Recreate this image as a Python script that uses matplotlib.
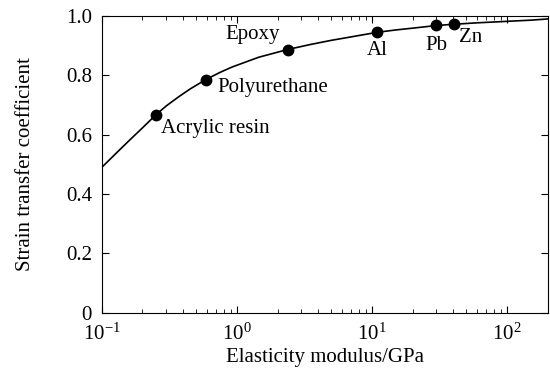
import matplotlib
matplotlib.use("Agg")
import matplotlib.pyplot as plt

plt.rcParams['font.family'] = ['Liberation Serif', 'DejaVu Serif']
plt.rcParams['mathtext.fontset'] = 'stix'

# curve
curve_E = [0.1, 0.13, 0.16, 0.2, 0.25, 0.3, 0.374, 0.45, 0.59, 0.75, 0.92, 1.45, 2.37,
           3.5, 5, 7.5, 10.9, 15, 20, 30, 40, 60, 100, 150, 200]
curve_k = [0.49, 0.541, 0.581, 0.623, 0.666, 0.697, 0.729, 0.754, 0.786, 0.810, 0.828, 0.861, 0.887,
           0.904, 0.918, 0.932, 0.945, 0.953, 0.959, 0.968, 0.972, 0.977, 0.982, 0.986, 0.990]

# materials
names = ['Acrylic resin', 'Polyurethane', 'Epoxy', 'Al', 'Pb', 'Zn']
E = [0.254, 0.59, 2.37, 10.9, 30, 40.7]
k = [0.667, 0.785, 0.886, 0.946, 0.969, 0.972]

fig = plt.figure(figsize=(5.5, 3.72), dpi=100)
ax = fig.add_axes([0.185, 0.159, 0.811, 0.798])

ax.plot(curve_E, curve_k, color='black', lw=1.2)
ax.plot(E, k, 'o', color='black', ms=7.5)

offs = [(5, -14, 'left'), (11, -8, 'left'), (-8, 15, 'right'),
        (0, -18, 'center'), (0, -20, 'center'), (5, -13, 'left')]
for n, x, y, (dx, dy, ha) in zip(names, E, k, offs):
    ax.annotate(n, (x, y), xytext=(dx, dy), textcoords='offset pixels',
                ha=ha, va='center', fontsize=15)

ax.set_xscale('log')
ax.set_xlim(0.1, 200)
ax.set_ylim(0, 1)
ax.set_yticks([0, 0.2, 0.4, 0.6, 0.8, 1.0])
ax.set_yticklabels(['0', '0.2', '0.4', '0.6', '0.8', '1.0'])
ax.tick_params(which='both', direction='in', top=True, right=True, labelsize=15)
ax.tick_params(which='major', length=5)
ax.tick_params(which='minor', length=3)
ax.tick_params(axis='x', pad=8)
ax.tick_params(axis='y', pad=7)
ax.set_xlabel('Elasticity modulus/GPa', fontsize=15, labelpad=2)
ax.set_ylabel('Strain transfer coefficient', fontsize=15, labelpad=22)

fig.savefig('out.png', dpi=100)
